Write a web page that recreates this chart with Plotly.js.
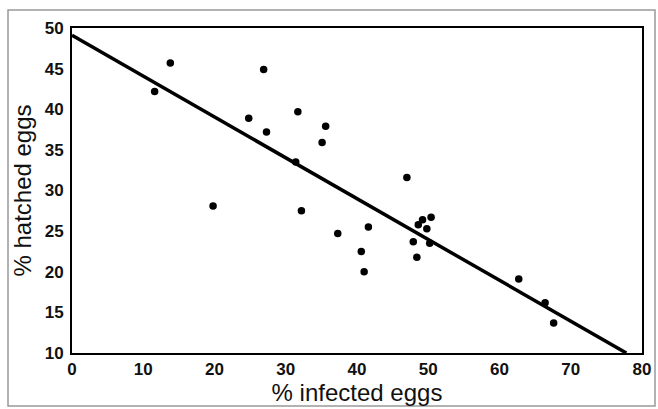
<!DOCTYPE html>
<html>
<head>
<meta charset="utf-8">
<script src="https://cdn.plot.ly/plotly-3.0.1.min.js"></script>
<style>html,body{margin:0;padding:0;background:#fff;}#chart{width:658px;height:409px;}</style>
</head>
<body>
<div id="chart"></div>
<script>
const infected = [11.6, 13.8, 26.9, 24.8, 27.3, 31.7, 31.4, 35.6, 35.1, 47.0, 19.8, 32.2, 37.3, 41.6, 40.6, 41.0, 47.9, 48.4, 48.6, 49.2, 49.8, 50.4, 50.2, 62.7, 66.4, 67.6];
const hatched  = [42.2, 45.7, 44.9, 38.9, 37.2, 39.7, 33.5, 37.9, 35.9, 31.6, 28.1, 27.5, 24.7, 25.5, 22.5, 20.0, 23.7, 21.8, 25.8, 26.4, 25.3, 26.7, 23.5, 19.1, 16.2, 13.7];
const fitIntercept = 49.1;
const fitSlope = -0.5026;
const fitX = [0, 77.8];
const fitY = fitX.map(x => fitIntercept + fitSlope * x);
const xTicks = [0, 10, 20, 30, 40, 50, 60, 70, 80];
const yTicks = [10, 15, 20, 25, 30, 35, 40, 45, 50];

const data = [
  {x: fitX, y: fitY, mode: 'lines', type: 'scatter', line: {color: '#000', width: 3.5}, hoverinfo: 'skip'},
  {x: infected, y: hatched, mode: 'markers', type: 'scatter', marker: {color: '#000', size: 7.5}}
];
const tickFont = {family: 'Liberation Sans, Arial, sans-serif', size: 17, color: '#111', weight: 'bold'};
const titleFont = {family: 'Liberation Sans, Arial, sans-serif', size: 24, color: '#111'};
const layout = {
  width: 658, height: 409,
  margin: {l: 72, r: 16, t: 28, b: 56},
  paper_bgcolor: '#fff', plot_bgcolor: '#fff',
  showlegend: false,
  xaxis: {
    range: [0, 80], tickvals: xTicks, ticktext: xTicks.map(String),
    showgrid: false, zeroline: false, ticks: '',
    showline: true, linecolor: '#000', linewidth: 2, mirror: true,
    tickfont: tickFont, automargin: false,
    title: {text: '% infected eggs', font: titleFont, standoff: 3}
  },
  yaxis: {
    range: [10, 50], tickvals: yTicks, ticktext: yTicks.map(String),
    showgrid: false, zeroline: false, ticks: '',
    showline: true, linecolor: '#000', linewidth: 2, mirror: true,
    tickfont: tickFont, automargin: false, ticklabelstandoff: 3,
    title: {text: '% hatched eggs', font: titleFont, standoff: 6}
  },
  shapes: [
    {type: 'rect', xref: 'paper', yref: 'paper', x0: -64/570, x1: 1 + 13/570, y0: -53/325, y1: 1 + 18/325,
     line: {color: '#999', width: 1.5}, fillcolor: 'rgba(0,0,0,0)', layer: 'below'}
  ]
};
Plotly.newPlot('chart', data, layout, {displayModeBar: false, staticPlot: true});
</script>
</body>
</html>
